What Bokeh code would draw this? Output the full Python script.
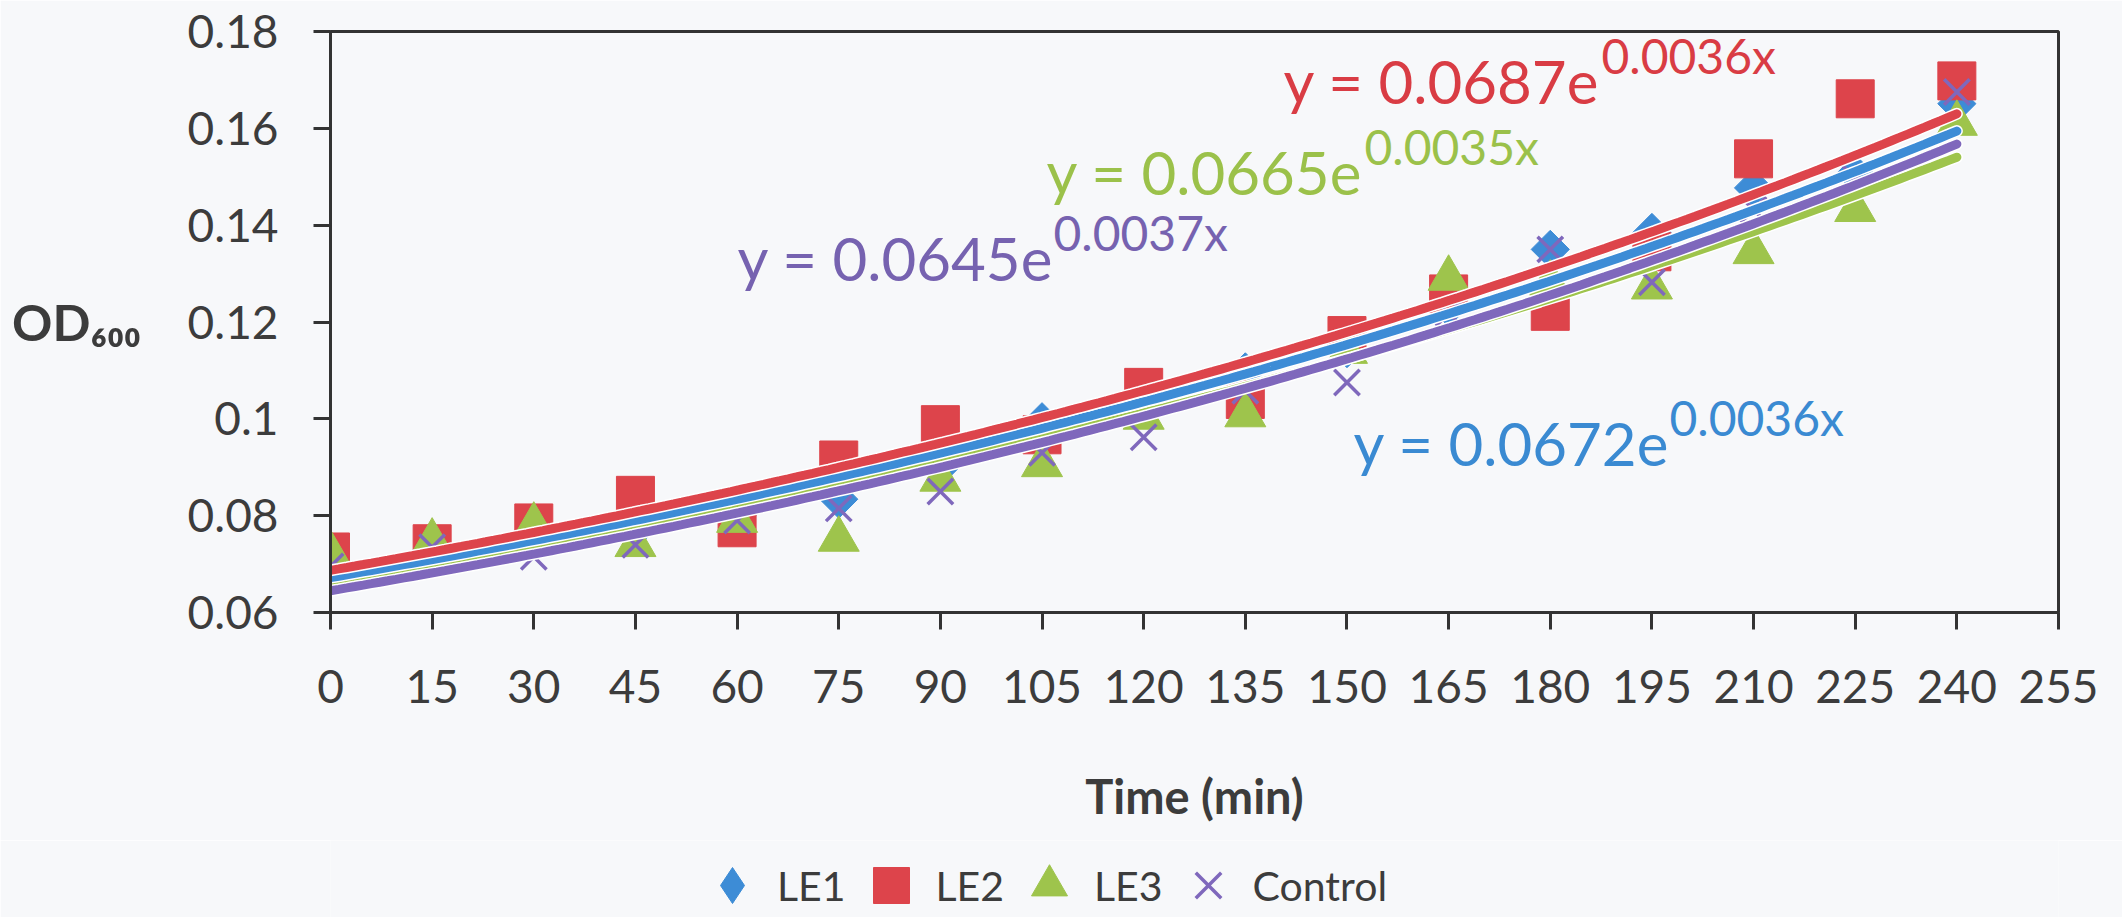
import numpy as np
from bokeh.plotting import figure
from bokeh.layouts import column
from bokeh.models import Range1d, FixedTicker, Label, Legend, LegendItem
from bokeh.embed import file_html
from bokeh.resources import INLINE

# ---------------- data ----------------
time_min = [0, 15, 30, 45, 60, 75, 90, 105, 120, 135, 150, 165, 180, 195, 210, 225, 240]
le1 = [0.0700, 0.0730, 0.0750, 0.0770, 0.0800, 0.0834, 0.0900, 0.0994, 0.1020, 0.1097,
       0.1145, 0.1230, 0.1350, 0.1385, 0.1477, 0.1506, 0.1651]
le2 = [0.0725, 0.0742, 0.0785, 0.0842, 0.0775, 0.0915, 0.0988, 0.0967, 0.1065, 0.1040,
       0.1172, 0.1258, 0.1222, 0.1345, 0.1537, 0.1661, 0.1698]
le3 = [0.0722, 0.0747, 0.0780, 0.0740, 0.0790, 0.0751, 0.0875, 0.0905, 0.1003, 0.1008,
       0.1139, 0.1290, 0.1280, 0.1272, 0.1345, 0.1432, 0.1610]
control = [0.0695, 0.0735, 0.0715, 0.0740, 0.0790, 0.0815, 0.0850, 0.0930, 0.0962, 0.1058,
           0.1075, 0.1218, 0.1350, 0.1282, 0.1432, 0.1497, 0.1675]

series_names = ["LE1", "LE2", "LE3", "Control"]
fit_a = [0.0672, 0.0687, 0.0665, 0.0645]
fit_b = [0.0036, 0.0036, 0.0035, 0.0037]
eq_main = ["y = 0.0672e", "y = 0.0687e", "y = 0.0665e", "y = 0.0645e"]
eq_sup = ["0.0036x", "0.0036x", "0.0035x", "0.0037x"]

x_ticks = [0, 15, 30, 45, 60, 75, 90, 105, 120, 135, 150, 165, 180, 195, 210, 225, 240, 255]
y_ticks = [0.06, 0.08, 0.10, 0.12, 0.14, 0.16, 0.18]
y_tick_labels = ["0.06", "0.08", "0.1", "0.12", "0.14", "0.16", "0.18"]

# ---------------- style ----------------
BLUE = "#3D8CD6"
RED = "#DD444B"
GREEN = "#9EC44C"
PURPLE = "#7F68BC"
EQ_COLORS = ["#3A8AD2", "#D93C44", "#9BC14A", "#7662B0"]
TEXT = "#3C3C3C"
BG = "#F7F8FA"
FONT = "Lato"

W, H = 2122, 917
LEG_H = 77
H1 = H - LEG_H
FL, FR, FT, FB = 330, 2058, 31, 612
X0, X1, Y0, Y1 = 0, 255, 0.06, 0.18


def px_x(sx):
    return X0 + (sx - FL) / (FR - FL) * (X1 - X0)


def px_y(sy):
    return Y1 - (sy - FT) / (FB - FT) * (Y1 - Y0)


p = figure(width=W, height=H1, x_range=Range1d(X0, X1), y_range=Range1d(Y0, Y1),
           output_backend="svg", toolbar_location=None,
           min_border_left=FL, min_border_right=W - FR,
           min_border_top=FT, min_border_bottom=H1 - FB)

p.background_fill_color = BG
p.border_fill_color = BG
p.outline_line_color = "#333333"
p.outline_line_width = 3
p.grid.visible = False

p.xaxis.ticker = FixedTicker(ticks=x_ticks)
p.yaxis.ticker = FixedTicker(ticks=y_ticks)
p.yaxis.major_label_overrides = {v: s for v, s in zip(y_ticks, y_tick_labels)}

for ax in (p.xaxis[0], p.yaxis[0]):
    ax.axis_line_color = "#333333"
    ax.axis_line_width = 3
    ax.major_tick_line_color = "#333333"
    ax.major_tick_line_width = 3
    ax.major_tick_in = 0
    ax.major_tick_out = 17
    ax.minor_tick_line_color = None
    ax.major_label_text_font = FONT
    ax.major_label_text_font_size = "46px"
    ax.major_label_text_color = TEXT
    ax.axis_label_text_font = FONT
    ax.axis_label_text_font_style = "bold"
    ax.axis_label_text_color = TEXT

p.yaxis.major_label_standoff = 35
p.xaxis.major_label_standoff = 40

p.xaxis.axis_label = "Time (min)"
p.xaxis.axis_label_text_font_size = "47px"
p.xaxis.axis_label_standoff = 62

p.yaxis.axis_label = "OD\u2086\u2080\u2080"
p.yaxis.axis_label_orientation = "horizontal"
p.yaxis.axis_label_text_font_size = "50px"
p.yaxis.axis_label_standoff = 44

# ---------------- markers ----------------
r1 = p.scatter(time_min, le1, marker="square", angle=np.pi / 4, size=27,
               fill_color=BLUE, line_color=BLUE)
r2 = p.scatter(time_min, le2, marker="square", size=38, fill_color=RED, line_color=RED)
r3 = p.scatter(time_min, le3, marker="triangle", size=41, fill_color=GREEN, line_color=GREEN)
r4 = p.scatter(time_min, control, marker="x", size=36, line_color=PURPLE, line_width=3.5)

# ---------------- exponential trendlines ----------------
xs = np.linspace(time_min[0], time_min[-1], 200)
line_colors = [BLUE, RED, GREEN, PURPLE]
for i in [2, 3, 0, 1]:
    ys = fit_a[i] * np.exp(fit_b[i] * xs)
    p.line(xs, ys, line_color="white", line_width=12, line_cap="round")
    p.line(xs, ys, line_color=line_colors[i], line_width=9, line_cap="round")

# ---------------- equations ----------------
eq_pos = [  # (left px, baseline px, superscript left px)
    (1353, 442, 1669),
    (1283, 80, 1601),
    (1046, 171, 1364),
    (737, 257, 1053),
]
for i, (lx, by, sx) in enumerate(eq_pos):
    p.add_layout(Label(x=px_x(lx), y=px_y(by), text=eq_main[i], text_font=FONT,
                       text_font_size="60px", text_color=EQ_COLORS[i],
                       text_baseline="alphabetic", text_align="left"))
    p.add_layout(Label(x=px_x(sx), y=px_y(by - 25), text=eq_sup[i], text_font=FONT,
                       text_font_size="48px", text_color=EQ_COLORS[i],
                       text_baseline="alphabetic", text_align="left"))

# ---------------- legend strip ----------------
leg = figure(width=W, height=LEG_H, x_range=Range1d(1, 2), y_range=Range1d(1, 2),
             output_backend="svg", toolbar_location=None,
             x_axis_type=None, y_axis_type=None,
             min_border_left=0, min_border_right=0, min_border_top=0, min_border_bottom=0)
leg.background_fill_color = BG
leg.border_fill_color = BG
leg.outline_line_color = None
leg.grid.visible = False

markers = ["diamond", "square", "triangle", "x"]
colors = [BLUE, RED, GREEN, PURPLE]
items = []
for name, mk, col in zip(series_names, markers, colors):
    # swatch renderers for the legend only (their single point lies outside the strip's range)
    if mk == "x":
        rr = leg.scatter(x=[0], y=[0], marker=mk, line_color=col, line_width=3.5)
    else:
        rr = leg.scatter(x=[0], y=[0], marker=mk, fill_color=col, line_color=col)
    items.append(LegendItem(label=name, renderers=[rr]))

legend = Legend(items=items, orientation="horizontal", location=(357, -13),
                glyph_width=90, glyph_height=90, label_standoff=-15, spacing=-2,
                padding=0, margin=0, border_line_color=None, background_fill_alpha=0,
                label_text_font=FONT, label_text_font_size="41px", label_text_color=TEXT)
leg.add_layout(legend)

layout = column(p, leg, spacing=0)
open("out.html", "w").write(file_html(layout, INLINE))
